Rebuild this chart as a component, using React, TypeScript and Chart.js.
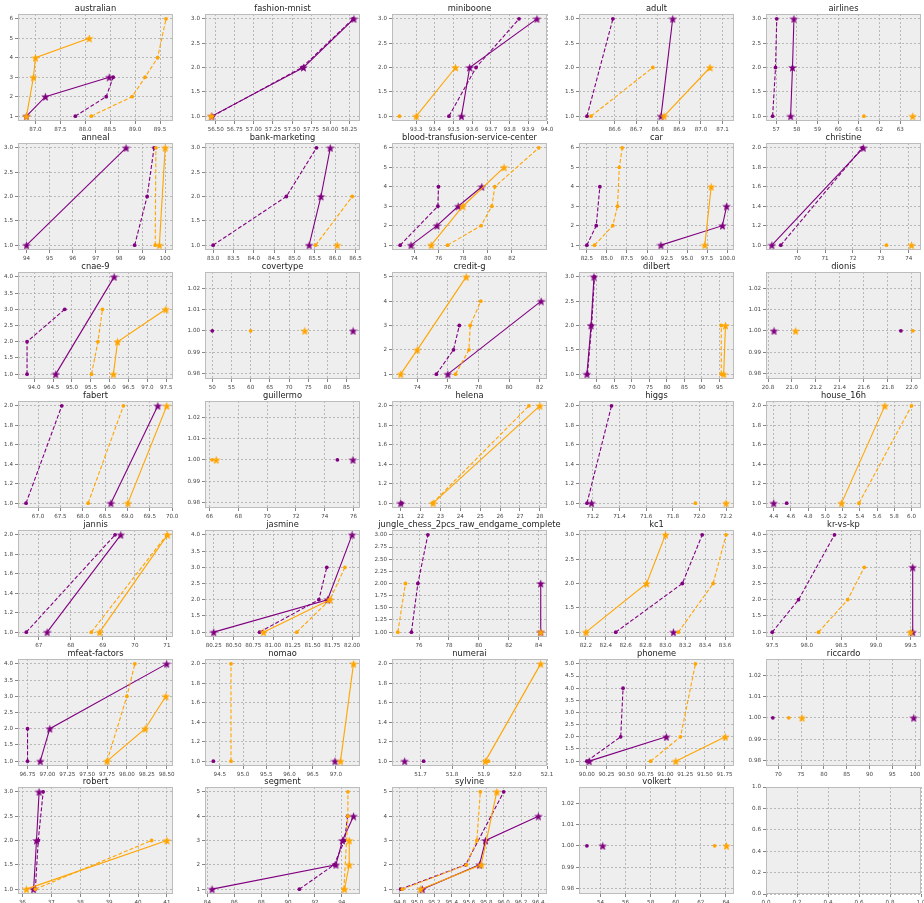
import { useEffect, useRef } from "react";
import { Chart, registerables } from "chart.js";

Chart.register(...registerables);

type Pt = [number, number];

const titles: string[] = [
  "australian", "fashion-mnist", "miniboone", "adult", "airlines",
  "anneal", "bank-marketing", "blood-transfusion-service-center", "car", "christine",
  "cnae-9", "covertype", "credit-g", "dilbert", "dionis",
  "fabert", "guillermo", "helena", "higgs", "house_16h",
  "jannis", "jasmine", "jungle_chess_2pcs_raw_endgame_complete", "kc1", "kr-vs-kp",
  "mfeat-factors", "nomao", "numerai", "phoneme", "riccardo",
  "robert", "segment", "sylvine", "volkert",
];

const purpleSolid: Pt[][] = [
  [[86.82, 1], [87.2, 2], [88.48, 3]],
  [[56.45, 1], [57.65, 2], [58.31, 3]],
  [[93.542, 1], [93.586, 2], [93.946, 3]],
  [[86.815, 1], [86.869, 3]],
  [[57.7, 1], [57.79, 2], [57.86, 3]],
  [[94.0, 1], [98.31, 3]],
  [[85.36, 1], [85.65, 2], [85.88, 3]],
  [[73.73, 1], [75.86, 2], [77.6, 3], [79.53, 4]],
  [[91.73, 1], [99.4, 2], [99.92, 3]],
  [[69.09, 1], [72.37, 2]],
  [[94.57, 1], [96.12, 4]],
  [[86.7, 1]],
  [[76.0, 1], [82.1, 4]],
  [[57.15, 1], [58.33, 2], [59.17, 3]],
  [[20.85, 1]],
  [[68.63, 1], [69.68, 2]],
  [[75.96, 1]],
  [[21.0, 1]],
  [[71.19, 1]],
  [[4.4, 1]],
  [[67.26, 1], [69.56, 2]],
  [[80.25, 1], [81.69, 2], [82.0, 4]],
  [[84.14, 1], [84.14, 2]],
  [[83.08, 1]],
  [[99.53, 1], [99.53, 3]],
  [[96.91, 1], [97.03, 2], [98.5, 4]],
  [[96.98, 1]],
  [[51.65, 1]],
  [[90.03, 1], [91.01, 2]],
  [[99.7, 1]],
  [[36.39, 1], [36.49, 2], [36.58, 3]],
  [[84.35, 1], [93.56, 2], [94.04, 3], [94.87, 4]],
  [[95.06, 1], [95.72, 2], [95.79, 3], [96.4, 4]],
  [[54.18, 1]],
];

const purpleDashed: Pt[][] = [
  [[87.8, 1], [88.42, 2], [88.56, 3]],
  [[56.46, 1], [57.63, 2], [58.3, 3]],
  [[93.475, 1], [93.62, 2], [93.85, 3]],
  [[86.472, 1], [86.592, 3]],
  [[56.83, 1], [56.97, 2], [57.03, 3]],
  [[98.68, 1], [99.22, 2], [99.52, 3]],
  [[83.0, 1], [84.8, 2], [85.54, 3]],
  [[72.84, 1], [75.93, 3], [75.98, 4]],
  [[82.5, 1], [83.67, 2], [84.12, 4]],
  [[69.41, 1], [72.33, 2]],
  [[93.81, 1], [93.81, 2], [94.81, 3]],
  [[50.0, 1]],
  [[75.25, 1], [76.37, 2], [76.75, 3]],
  [[57.3, 1], [58.5, 2], [59.3, 3]],
  [[21.91, 1]],
  [[66.73, 1], [67.53, 2]],
  [[74.88, 1]],
  [[21.05, 1]],
  [[71.156, 1], [71.34, 2]],
  [[4.55, 1]],
  [[66.61, 1], [69.38, 2]],
  [[80.83, 1], [81.58, 2], [81.68, 3]],
  [[75.49, 1], [75.92, 2], [76.59, 3]],
  [[82.5, 1], [83.17, 2], [83.37, 3]],
  [[97.5, 1], [97.88, 2], [98.4, 4]],
  [[96.75, 1], [96.75, 2]],
  [[94.36, 1]],
  [[51.71, 1]],
  [[90.0, 1], [90.43, 2], [90.46, 4]],
  [[68.8, 1]],
  [[36.45, 1], [36.55, 2], [36.72, 3]],
  [[90.84, 1], [93.42, 2], [94.2, 3], [94.43, 4]],
  [[94.81, 1], [95.56, 2], [96.0, 5]],
  [[52.92, 1]],
];

const orangeSolid: Pt[][] = [
  [[86.82, 1], [86.96, 3], [87.0, 4], [88.08, 5]],
  [[56.44, 1]],
  [[93.3, 1], [93.51, 2]],
  [[86.829, 1], [87.042, 2]],
  [[63.6, 1]],
  [[99.75, 1], [100.0, 3]],
  [[86.05, 1]],
  [[75.38, 1], [77.98, 3], [81.36, 5]],
  [[97.2, 1], [98.0, 4]],
  [[74.1, 1]],
  [[96.1, 1], [96.21, 2], [97.49, 3]],
  [[74.1, 1]],
  [[72.92, 1], [74.0, 2], [77.2, 5]],
  [[96.2, 1], [96.7, 2]],
  [[21.03, 1]],
  [[69.01, 1], [69.88, 2]],
  [[66.46, 1]],
  [[22.63, 1], [28.0, 2]],
  [[72.2, 1]],
  [[5.187, 1], [5.69, 2]],
  [[68.9, 1], [71.02, 2]],
  [[80.88, 1], [81.72, 2]],
  [[84.14, 1]],
  [[82.2, 1], [82.81, 2], [83.0, 3]],
  [[99.5, 1]],
  [[97.75, 1], [98.23, 2], [98.49, 3]],
  [[97.1, 1], [97.38, 2]],
  [[51.905, 1], [52.08, 2]],
  [[91.13, 1], [91.76, 2]],
  [[75.2, 1]],
  [[36.14, 1], [41.0, 2]],
  [[94.2, 1], [94.55, 2], [94.55, 3]],
  [[95.04, 1], [95.74, 2], [95.92, 5]],
  [[64.04, 1]],
];

const orangeDashed: Pt[][] = [
  [[88.12, 1], [88.94, 2], [89.2, 3], [89.45, 4], [89.62, 6]],
  [[56.45, 1]],
  [[93.21, 1]],
  [[86.491, 1], [86.777, 2]],
  [[61.24, 1]],
  [[99.57, 1], [99.6, 3]],
  [[85.52, 1], [86.42, 2]],
  [[76.73, 1], [79.48, 2], [80.36, 3], [80.6, 4], [84.2, 6]],
  [[83.46, 1], [85.73, 2], [86.32, 3], [86.54, 5], [86.91, 6]],
  [[73.2, 1]],
  [[95.52, 1], [95.69, 2], [95.81, 3]],
  [[60.0, 1]],
  [[76.5, 1], [77.38, 2], [77.46, 3], [78.15, 4]],
  [[95.5, 1], [95.5, 2]],
  [[22.01, 1]],
  [[68.12, 1], [68.91, 2]],
  [[66.17, 1]],
  [[22.6, 1], [27.45, 2]],
  [[71.97, 1]],
  [[5.39, 1], [6.0, 2]],
  [[68.64, 1], [71.0, 2]],
  [[81.3, 1], [81.72, 2], [81.91, 3]],
  [[74.58, 1], [75.09, 2]],
  [[83.13, 1], [83.48, 2], [83.61, 3]],
  [[98.17, 1], [98.59, 2], [98.83, 3]],
  [[97.75, 1], [98.0, 3], [98.1, 4]],
  [[94.74, 1], [94.74, 2]],
  [[51.915, 1]],
  [[90.81, 1], [91.19, 2], [91.38, 5]],
  [[72.3, 1]],
  [[36.45, 1], [40.47, 2]],
  [[94.15, 1], [94.45, 4], [94.45, 5]],
  [[94.83, 1], [95.57, 2], [95.69, 3], [95.73, 5]],
  [[63.1, 1]],
];

const xLimits: [number, number][] = [
  [86.65, 89.76], [56.36, 58.39], [93.17, 94.0], [86.435, 87.153], [56.51, 64.0],
  [93.63, 100.34], [82.8, 86.61], [72.17, 84.88], [81.52, 100.84], [68.88, 74.44],
  [93.57, 97.68], [48.1, 88.5], [72.35, 82.48], [54.89, 99.14], [20.783, 22.078],
  [66.55, 70.02], [65.68, 76.45], [20.56, 28.36], [71.096, 72.26], [4.31, 6.11],
  [66.35, 71.19], [80.14, 82.1], [74.19, 84.56], [82.13, 83.69], [97.41, 99.65],
  [96.63, 98.58], [94.18, 97.52], [51.61, 52.1], [89.9, 91.87], [67.3, 101.3],
  [35.85, 41.21], [83.82, 95.35], [94.71, 96.5], [52.29, 64.64],
];

const xTicks: number[][] = [
  [87, 87.5, 88, 88.5, 89, 89.5],
  [56.5, 56.75, 57, 57.25, 57.5, 57.75, 58, 58.25],
  [93.3, 93.4, 93.5, 93.6, 93.7, 93.8, 93.9, 94.0],
  [86.6, 86.7, 86.8, 86.9, 87.0, 87.1],
  [57, 58, 59, 60, 61, 62, 63],
  [94, 95, 96, 97, 98, 99, 100],
  [83, 83.5, 84, 84.5, 85, 85.5, 86, 86.5],
  [74, 76, 78, 80, 82],
  [82.5, 85, 87.5, 90, 92.5, 95, 97.5, 100],
  [70, 71, 72, 73, 74],
  [94, 94.5, 95, 95.5, 96, 96.5, 97, 97.5],
  [50, 55, 60, 65, 70, 75, 80, 85],
  [74, 76, 78, 80, 82],
  [60, 65, 70, 75, 80, 85, 90, 95],
  [20.8, 21.0, 21.2, 21.4, 21.6, 21.8, 22.0],
  [67, 67.5, 68, 68.5, 69, 69.5, 70],
  [66, 68, 70, 72, 74, 76],
  [21, 22, 23, 24, 25, 26, 27, 28],
  [71.2, 71.4, 71.6, 71.8, 72.0, 72.2],
  [4.4, 4.6, 4.8, 5.0, 5.2, 5.4, 5.6, 5.8, 6.0],
  [67, 68, 69, 70, 71],
  [80.25, 80.5, 80.75, 81, 81.25, 81.5, 81.75, 82],
  [76, 78, 80, 82, 84],
  [82.2, 82.4, 82.6, 82.8, 83.0, 83.2, 83.4, 83.6],
  [97.5, 98, 98.5, 99, 99.5],
  [96.75, 97, 97.25, 97.5, 97.75, 98, 98.25, 98.5],
  [94.5, 95, 95.5, 96, 96.5, 97],
  [51.7, 51.8, 51.9, 52.0, 52.1],
  [90, 90.25, 90.5, 90.75, 91, 91.25, 91.5, 91.75],
  [70, 75, 80, 85, 90, 95, 100],
  [36, 37, 38, 39, 40, 41],
  [84, 86, 88, 90, 92, 94],
  [94.8, 95.0, 95.2, 95.4, 95.6, 95.8, 96.0, 96.2, 96.4],
  [54, 56, 58, 60, 62, 64],
];

const xDecimals: number[] = [
  1, 2, 1, 1, 0,
  0, 1, 0, 1, 0,
  1, 0, 0, 0, 1,
  1, 0, 0, 1, 1,
  0, 2, 0, 1, 1,
  2, 1, 1, 2, 0,
  0, 0, 1, 0,
];

const Y6 = [1, 2, 3, 4, 5, 6];
const Y5 = [1, 2, 3, 4, 5];
const Y5H = [1, 1.5, 2, 2.5, 3, 3.5, 4, 4.5, 5];
const Y4 = [1, 1.5, 2, 2.5, 3, 3.5, 4];
const Y3 = [1, 1.5, 2, 2.5, 3];
const Y3Q = [1, 1.25, 1.5, 1.75, 2, 2.25, 2.5, 2.75, 3];
const Y2 = [1, 1.2, 1.4, 1.6, 1.8, 2];
const Y1 = [0.98, 0.99, 1.0, 1.01, 1.02];

const yTicks: number[][] = [
  Y6, Y3, Y3, Y3, Y3,
  Y3, Y3, Y6, Y6, Y2,
  Y4, Y1, Y5, Y3, Y1,
  Y2, Y1, Y2, Y2, Y2,
  Y2, Y4, Y3Q, Y3, Y4,
  Y4, Y2, Y2, Y5H, Y1,
  Y3, Y5, Y5, Y1,
];

const yDecimals: number[] = [
  0, 1, 1, 1, 1,
  1, 1, 0, 0, 1,
  1, 2, 0, 1, 2,
  1, 2, 1, 1, 1,
  1, 1, 2, 1, 1,
  1, 1, 1, 1, 2,
  1, 0, 0, 2,
];

const emptyTicks = [0, 0.2, 0.4, 0.6, 0.8, 1.0];

const FONT = '"DejaVu Sans", sans-serif';
const PURPLE = "#800080";
const ORANGE = "#FFA500";
const COL_LEFT = [18, 205, 392, 579, 766];
const ROW_TOP = [14, 143, 272, 401, 530, 659, 787];
const FW = 155;
const FH = 107;
const PL = 40;
const PT = 22;
const PR = 24;
const PB = 18;
const CW = FW + PL + PR;
const CH = FH + PT + PB;

function starImage(color: string, size: number): HTMLCanvasElement {
  const c = document.createElement("canvas");
  c.width = size;
  c.height = size;
  const ctx = c.getContext("2d")!;
  const R = size / 2;
  const r = R * 0.42;
  ctx.beginPath();
  for (let i = 0; i < 10; i++) {
    const a = -Math.PI / 2 + (i * Math.PI) / 5;
    const rad = i % 2 === 0 ? R : r;
    ctx.lineTo(size / 2 + rad * Math.cos(a), size / 2 + 0.5 + rad * Math.sin(a));
  }
  ctx.closePath();
  ctx.fillStyle = color;
  ctx.fill();
  return c;
}

const framePlugin = {
  id: "frameAndTitle",
  beforeDraw(chart: any) {
    const { ctx, chartArea } = chart;
    ctx.save();
    ctx.fillStyle = "#eeeeee";
    ctx.fillRect(chartArea.left, chartArea.top, chartArea.right - chartArea.left, chartArea.bottom - chartArea.top);
    ctx.restore();
  },
  afterDraw(chart: any) {
    const { ctx, chartArea } = chart;
    ctx.save();
    ctx.strokeStyle = "#bcbcbc";
    ctx.lineWidth = 1;
    ctx.strokeRect(chartArea.left + 0.5, chartArea.top + 0.5, chartArea.right - chartArea.left - 1, chartArea.bottom - chartArea.top - 1);
    const title = chart.options.plugins.frameAndTitle?.text;
    if (title) {
      ctx.fillStyle = "#222";
      ctx.font = `8.3px ${FONT}`;
      ctx.textAlign = "center";
      ctx.textBaseline = "alphabetic";
      ctx.fillText(title, (chartArea.left + chartArea.right) / 2, chartArea.top - 3);
    }
    ctx.restore();
  },
};

function axisOpts(min: number, max: number, ticks: number[], dec: number, isX: boolean) {
  return {
    type: "linear",
    position: isX ? "bottom" : "left",
    min,
    max,
    afterBuildTicks: (ax: any) => {
      ax.ticks = ticks.map((v) => ({ value: v }));
    },
    afterFit: (s: any) => {
      if (isX) s.height = PB;
      else s.width = PL;
    },
    ticks: {
      callback: (v: any) => Number(v).toFixed(dec),
      font: { family: FONT, size: 5.6 },
      color: "#444",
      maxRotation: 0,
      minRotation: 0,
      autoSkip: false,
      padding: 2,
    },
    grid: {
      color: "#aaaaaa",
      lineWidth: 0.8,
      drawTicks: true,
      tickLength: 3,
      tickColor: "#666",
      tickWidth: 0.8,
      tickBorderDash: [],
    },
    border: { display: false, dash: [2, 2] },
  };
}

export default function App() {
  const refs = useRef<(HTMLCanvasElement | null)[]>([]);

  useEffect(() => {
    const charts: Chart[] = [];
    const starP = starImage(PURPLE, 9);
    const starO = starImage(ORANGE, 9);
    const mk = (data: Pt[], color: string, dashed: boolean, star: boolean) => ({
      data: data.map(([x, y]) => ({ x, y })),
      showLine: true,
      borderColor: color,
      backgroundColor: color,
      borderWidth: 1.1,
      borderDash: dashed ? [4, 2] : [],
      pointStyle: star ? (color === PURPLE ? starP : starO) : "circle",
      pointRadius: star ? 4.5 : 1.9,
      pointBorderWidth: 0,
      pointBackgroundColor: color,
      clip: false,
    });

    for (let i = 0; i < 35; i++) {
      const canvas = refs.current[i];
      if (!canvas) continue;
      const empty = i >= titles.length;
      let datasets: any[] = [];
      let xs: any;
      let ys: any;
      if (empty) {
        xs = axisOpts(0, 1, emptyTicks, 1, true);
        ys = axisOpts(0, 1, emptyTicks, 1, false);
      } else {
        datasets = [
          mk(orangeSolid[i], ORANGE, false, true),
          mk(orangeDashed[i], ORANGE, true, false),
          mk(purpleSolid[i], PURPLE, false, true),
          mk(purpleDashed[i], PURPLE, true, false),
        ];
        const yt = yTicks[i];
        let ymin: number;
        let ymax: number;
        if (yt === Y1) {
          ymin = 0.9775;
          ymax = 1.0275;
        } else {
          const top = yt[yt.length - 1];
          const m = (top - 1) * 0.05;
          ymin = 1 - m;
          ymax = top + m;
        }
        xs = axisOpts(xLimits[i][0], xLimits[i][1], xTicks[i], xDecimals[i], true);
        ys = axisOpts(ymin, ymax, yt, yDecimals[i], false);
      }
      const chart = new Chart(canvas, {
        type: "scatter",
        data: { datasets },
        options: {
          animation: false,
          responsive: false,
          devicePixelRatio: 1,
          layout: { padding: { left: 0, top: PT, right: PR, bottom: 0 } },
          plugins: {
            legend: { display: false },
            tooltip: { enabled: false },
            frameAndTitle: { text: empty ? "" : titles[i] },
          } as any,
          scales: { x: xs, y: ys } as any,
        },
        plugins: [framePlugin],
      } as any);
      charts.push(chart);
    }
    return () => charts.forEach((c) => c.destroy());
  }, []);

  return (
    <div style={{ position: "absolute", left: 0, top: 0, width: 924, height: 903, background: "#fff" }}>
      {Array.from({ length: 35 }, (_, i) => {
        const c = i % 5;
        const r = Math.floor(i / 5);
        return (
          <canvas
            key={i}
            ref={(el) => {
              refs.current[i] = el;
            }}
            width={CW}
            height={CH}
            style={{ position: "absolute", left: COL_LEFT[c] - PL, top: ROW_TOP[r] - PT, width: CW, height: CH }}
          />
        );
      })}
    </div>
  );
}
